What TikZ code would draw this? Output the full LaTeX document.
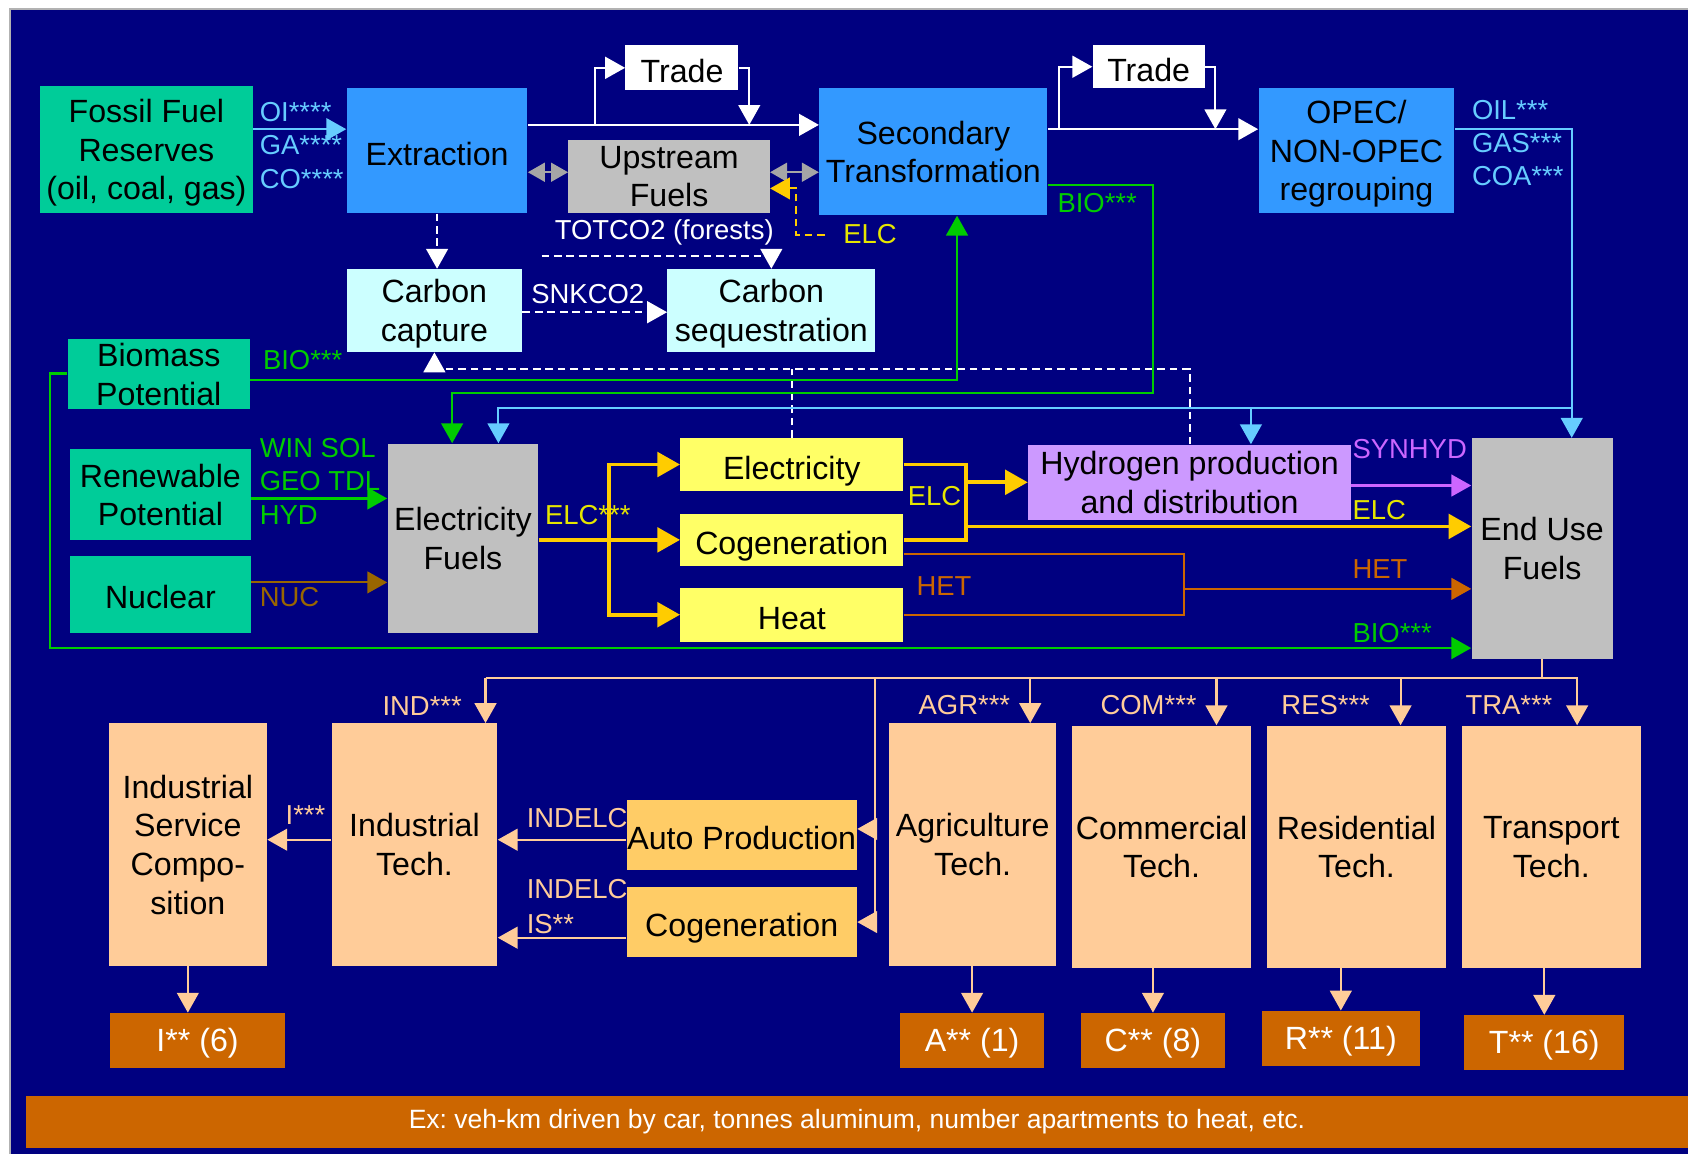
\documentclass[tikz,border=0pt]{standalone}
\usepackage{fontspec}
\setmainfont{Liberation Sans}
\usepackage{xcolor}
\usepackage{tikz}
\usetikzlibrary{arrows.meta, positioning}
\frenchspacing

\definecolor{bgnavy}{HTML}{000080}
\definecolor{resgreen}{HTML}{00CC99}
\definecolor{procblue}{HTML}{3399FF}
\definecolor{fuelgray}{HTML}{C0C0C0}
\definecolor{arrowgray}{HTML}{A6A6A6}
\definecolor{co2cyan}{HTML}{CCFFFF}
\definecolor{genyellow}{HTML}{FFFF66}
\definecolor{hydlilac}{HTML}{CC99FF}
\definecolor{techpeach}{HTML}{FFCC99}
\definecolor{autogold}{HTML}{FFCC66}
\definecolor{demorange}{HTML}{CC6600}
\definecolor{oilblue}{HTML}{66CCFF}
\definecolor{biogreen}{HTML}{00CC00}
\definecolor{elcyellow}{HTML}{FFCC00}
\definecolor{elctext}{HTML}{E6E600}
\definecolor{nucbrown}{HTML}{996600}
\definecolor{synpurple}{HTML}{CC66FF}

\begin{document}
\begin{tikzpicture}[
  x=0.02cm, y=-0.02cm,
  font={\fontsize{17}{20.4}\selectfont\rule[-0.212em]{0pt}{1.117em}},
  box/.style={inner sep=0pt, align=center, text=black, text depth=0pt},
  outbox/.style={inner sep=0pt, align=center, fill=demorange, text=white},
  lbl/.style={font=\fontsize{14.5}{17.6}\selectfont, inner sep=0pt, anchor=west, align=left},
  arr/.style={-{Triangle[length=10.5pt, width=11.5pt]}},
  bigarr/.style={-{Triangle[length=12pt, width=13pt]}},
  dblarr/.style={{Triangle[length=9pt, width=10pt]}-{Triangle[length=9pt, width=10pt]}},
  wline/.style={draw=white, line width=1.1pt},
  dline/.style={draw=white, line width=1pt, dash pattern=on 4pt off 2.6pt},
  gline/.style={draw=arrowgray, line width=1.1pt},
  oline/.style={draw=oilblue, line width=1.1pt},
  bline/.style={draw=biogreen, line width=1.2pt},
  yline/.style={draw=elcyellow, line width=2pt},
  nline/.style={draw=nucbrown, line width=1.1pt},
  hline/.style={draw=demorange, line width=1pt},
  sline/.style={draw=synpurple, line width=1.1pt},
  pline/.style={draw=techpeach, line width=1.1pt}
]
  \useasboundingbox (0,0) rectangle (1568,1072);
  \fill[white] (0,0) rectangle (1568,1072);
  \fill[bgnavy] (9,8) rectangle (1568,1072);
  \draw[gray!60, line width=1pt] (9,1072) -- (9,8) -- (1568,8);

  % supply side
  \node[box, fill=resgreen, minimum width=3.96cm, minimum height=2.36cm] (fossil) at (136,139) {Fossil Fuel\\Reserves\\(oil, coal, gas)};
  \node[box, fill=procblue, minimum width=3.36cm, minimum height=2.32cm] (extr) at (406,140) {Extraction};
  \node[box, fill=white, minimum width=2.10cm, minimum height=0.84cm] (trade1) at (633.5,63) {Trade};
  \node[box, fill=fuelgray, minimum width=3.74cm, minimum height=1.36cm] (up) at (621.5,164) {Upstream\\Fuels};
  \node[box, fill=procblue, minimum width=4.24cm, minimum height=2.36cm] (sec) at (867,141) {Secondary\\Transformation};
  \node[box, fill=white, minimum width=2.08cm, minimum height=0.80cm] (trade2) at (1067,62) {Trade};
  \node[box, fill=procblue, minimum width=3.64cm, minimum height=2.32cm] (opec) at (1260,140) {OPEC/\\NON-OPEC\\regrouping};
  \node[box, fill=co2cyan, minimum width=3.26cm, minimum height=1.54cm] (cap) at (403.5,288.5) {Carbon\\capture};
  \node[box, fill=co2cyan, minimum width=3.86cm, minimum height=1.54cm] (seq) at (716.5,288.5) {Carbon\\sequestration};
  \node[box, fill=resgreen, minimum width=3.38cm, minimum height=1.30cm] (bio) at (147.5,347.5) {Biomass\\Potential};
  \node[box, fill=resgreen, minimum width=3.36cm, minimum height=1.70cm] (ren) at (149,459.5) {Renewable\\Potential};
  \node[box, fill=resgreen, minimum width=3.36cm, minimum height=1.44cm] (nuc) at (149,552) {Nuclear};
  \node[box, fill=fuelgray, minimum width=2.80cm, minimum height=3.52cm] (ef) at (430,500) {Electricity\\Fuels};
  \node[box, fill=genyellow, minimum width=4.14cm, minimum height=0.98cm] (elec) at (735.5,431.5) {Electricity};
  \node[box, fill=genyellow, minimum width=4.14cm, minimum height=0.98cm] (cogen) at (735.5,501.5) {Cogeneration};
  \node[box, fill=genyellow, minimum width=4.14cm, minimum height=1.00cm] (heat) at (735.5,571) {Heat};
  \node[box, fill=hydlilac, minimum width=6.00cm, minimum height=1.40cm] (hyd) at (1105,448) {Hydrogen production\\and distribution};
  \node[box, fill=fuelgray, minimum width=2.62cm, minimum height=4.10cm] (eu) at (1432.5,509.5) {End Use\\Fuels};

  % demand side
  \node[box, fill=techpeach, minimum width=2.94cm, minimum height=4.50cm] (isc) at (174.5,784.5) {Industrial\\Service\\Compo-\\sition};
  \node[box, fill=techpeach, minimum width=3.08cm, minimum height=4.50cm] (it) at (385,784.5) {Industrial\\Tech.};
  \node[box, fill=autogold, minimum width=4.28cm, minimum height=1.30cm] (ap) at (689,775.5) {Auto Production};
  \node[box, fill=autogold, minimum width=4.28cm, minimum height=1.30cm] (cg2) at (689,856.5) {Cogeneration};
  \node[box, fill=techpeach, minimum width=3.10cm, minimum height=4.50cm] (agr) at (903.5,784.5) {Agriculture\\Tech.};
  \node[box, fill=techpeach, minimum width=3.32cm, minimum height=4.50cm] (com) at (1079,786.5) {Commercial\\Tech.};
  \node[box, fill=techpeach, minimum width=3.32cm, minimum height=4.50cm] (res) at (1260,786.5) {Residential\\Tech.};
  \node[box, fill=techpeach, minimum width=3.32cm, minimum height=4.50cm] (tra) at (1441,786.5) {Transport\\Tech.};
  \node[outbox, minimum width=3.26cm, minimum height=1.02cm] (outi) at (183.5,966.5) {I** (6)};
  \node[outbox, minimum width=2.68cm, minimum height=1.02cm] (outa) at (903,966.5) {A** (1)};
  \node[outbox, minimum width=2.68cm, minimum height=1.02cm] (outc) at (1071,966.5) {C** (8)};
  \node[outbox, minimum width=2.94cm, minimum height=1.02cm] (outr) at (1245.5,964.5) {R** (11)};
  \node[outbox, minimum width=2.98cm, minimum height=1.02cm] (outt) at (1434.5,968.5) {T** (16)};
  \node[outbox, minimum width=30.88cm, minimum height=0.96cm, font=\fontsize{14}{16.8}\selectfont] (ex) at (796,1042) {Ex: veh-km driven by car, tonnes aluminum, number apartments to heat, etc.};

  % fossil chain and trade
  \coordinate (t1in) at (553,116);
  \coordinate (t1out) at (696,116);
  \coordinate (t2in) at (984,120);
  \coordinate (t2out) at (1129,120);
  \draw[oline, arr] (fossil.east |- 0,120) -- (extr.west |- 0,120);
  \node[lbl, text=oilblue] (fosl) at (241,135) {OI****\\GA****\\CO****};
  \draw[wline, arr] (extr.east |- t1in) -- (sec.west |- t1in);
  \draw[wline, arr] (t1in) |- (trade1.west);
  \draw[wline, arr] (trade1.east) -| (t1out);
  \draw[wline, arr] (sec.east |- t2in) -- (opec.west |- t2in);
  \draw[wline, arr] (t2in) |- (trade2.west);
  \draw[wline, arr] (trade2.east) -| (t2out);
  \draw[gline, dblarr] (extr.east |- 0,160) -- (up.west |- 0,160);
  \draw[gline, dblarr] (up.east |- 0,160) -- (sec.west |- 0,160);
  \coordinate (elcup) at (766,218);
  \draw[draw=elcyellow, line width=1pt, dash pattern=on 4pt off 2.6pt, arr] (elcup) -- ++(-27,0) |- (up.east |- 0,175);
  \node[lbl, text=elctext] (elcl1) at (783,217) {ELC};

  % carbon flows
  \draw[dline, arr] (extr.south) -- (extr.south |- cap.north);
  \coordinate (totco2) at (503,238);
  \draw[dline, arr] (totco2) -| (seq.north);
  \node[lbl, anchor=center, text=white] (totl) at (617,216) {TOTCO2 (forests)};
  \draw[dline, arr] (cap.east |- 0,290) -- (seq.west |- 0,290);
  \node[lbl, anchor=center, text=white] (snkl) at (546,273) {SNKCO2};
  \draw[dline, arr] (hyd.north) -- (hyd.north |- 0,343) -| (cap.south);
  \draw[dline] (elec.north) -- (elec.north |- 0,343);

  % biomass
  \draw[bline, arr] (bio.east |- 0,353) -| ([xshift=0.44cm]sec.south);
  \node[lbl, text=biogreen] (biol1) at (244,334) {BIO***};
  \draw[bline, arr] (bio.west |- 0,347) -- ++(-16,0) |- (eu.west |- 0,602);
  \node[lbl, text=biogreen] (biol3) at (1256,588) {BIO***};
  \draw[bline, arr] (sec.east |- 0,172) -| (1071,365) -| ([xshift=-0.2cm]ef.north);
  \node[lbl, text=biogreen] (biol2) at (982,189) {BIO***};

  % oil, gas, coal to end use
  \coordinate (oilbus) at (1460,379);
  \draw[oline, arr] (opec.east |- t2in) -| ([xshift=0.55cm]eu.north);
  \draw[oline, arr] (oilbus) -| ([xshift=0.66cm]ef.north);
  \draw[oline, arr] ([xshift=1.14cm]hyd.north |- oilbus) -- ([xshift=1.14cm]hyd.north);
  \node[lbl, text=oilblue] (opecl) at (1367,133) {OIL***\\GAS***\\COA***};

  % electricity fuels
  \draw[bline, arr] (ren.east |- 0,463) -- (ef.west |- 0,463);
  \node[lbl, text=biogreen] (renl) at (241,447) {WIN SOL\\GEO TDL\\HYD};
  \draw[nline, arr] (nuc.east |- 0,541) -- (ef.west |- 0,541);
  \node[lbl, text=nucbrown] (nucl) at (241,555) {NUC};
  \coordinate (fan) at (566,501.5);
  \draw[yline] (ef.east |- fan) -- (fan);
  \draw[yline, bigarr] (fan) |- (elec.west);
  \draw[yline, bigarr] (fan) -- (cogen.west);
  \draw[yline, bigarr] (fan) |- (heat.west);
  \node[lbl, text=elctext] (elcl2) at (506,478) {ELC***};
  \coordinate (elcjoin) at (897,448);
  \draw[yline] (elec.east) -| (elcjoin |- cogen.east) -- (cogen.east);
  \draw[yline, bigarr] (elcjoin) -- (hyd.west |- elcjoin);
  \draw[yline, bigarr] (elcjoin |- 0,489) -- (eu.west |- 0,489);
  \node[lbl, text=elctext] (elcl3) at (843,461) {ELC};
  \node[lbl, text=elctext] (elcl4) at (1256,474) {ELC};
  \coordinate (hetjoin) at (1100,547);
  \draw[hline] (cogen.east |- 0,515) -| (hetjoin |- heat.east) -- (heat.east);
  \draw[hline, arr] (hetjoin) -- (eu.west |- hetjoin);
  \node[lbl, text=demorange] (hetl1) at (851,544) {HET};
  \node[lbl, text=demorange] (hetl2) at (1256,529) {HET};
  \draw[sline, arr] (hyd.east |- 0,451) -- (eu.west |- 0,451);
  \node[lbl, text=synpurple] (synl) at (1256,417) {SYNHYD};

  % end use distribution
  \coordinate (indtap) at (451,630);
  \coordinate (autotap) at (813,630);
  \coordinate (agrtap) at (957,630);
  \coordinate (comtap) at (1130,630);
  \coordinate (restap) at (1301,630);
  \coordinate (tratap) at (1465,630);
  \draw[pline] (eu.south) -- (eu.south |- tratap);
  \draw[pline, arr] (indtap) -- (tratap) -- (tratap |- tra.north);
  \draw[pline, arr] (indtap) -- (indtap |- it.north);
  \draw[pline, arr] (agrtap) -- (agrtap |- agr.north);
  \draw[pline, arr] (comtap) -- (comtap |- com.north);
  \draw[pline, arr] (restap) -- (restap |- res.north);
  \draw[pline, arr] (autotap) |- (cg2.east);
  \draw[pline, arr] (autotap |- 0,770) -- (ap.east |- 0,770);
  \node[lbl, text=techpeach] (indl) at (355,656) {IND***};
  \node[lbl, text=techpeach] (agrl) at (853,655) {AGR***};
  \node[lbl, text=techpeach] (coml) at (1022,655) {COM***};
  \node[lbl, text=techpeach] (resl) at (1190,655) {RES***};
  \node[lbl, text=techpeach] (tral) at (1361,655) {TRA***};

  % industry and outputs
  \draw[pline, arr] (ap.west |- 0,780) -- (it.east |- 0,780);
  \draw[pline, arr] (cg2.west |- 0,871) -- (it.east |- 0,871);
  \draw[pline, arr] (it.west |- 0,780) -- (isc.east |- 0,780);
  \node[lbl, text=techpeach] (il) at (265,757) {I***};
  \node[lbl, text=techpeach] (indelc1) at (489,760) {INDELC};
  \node[lbl, text=techpeach] (indelc2) at (489,826) {INDELC};
  \node[lbl, text=techpeach] (isl) at (489,858) {IS**};
  \draw[pline, arr] (isc.south) -- (isc.south |- outi.north);
  \draw[pline, arr] (outa.north |- agr.south) -- (outa.north);
  \draw[pline, arr] (outc.north |- com.south) -- (outc.north);
  \draw[pline, arr] (outr.north |- res.south) -- (outr.north);
  \draw[pline, arr] (outt.north |- tra.south) -- (outt.north);
\end{tikzpicture}
\end{document}
